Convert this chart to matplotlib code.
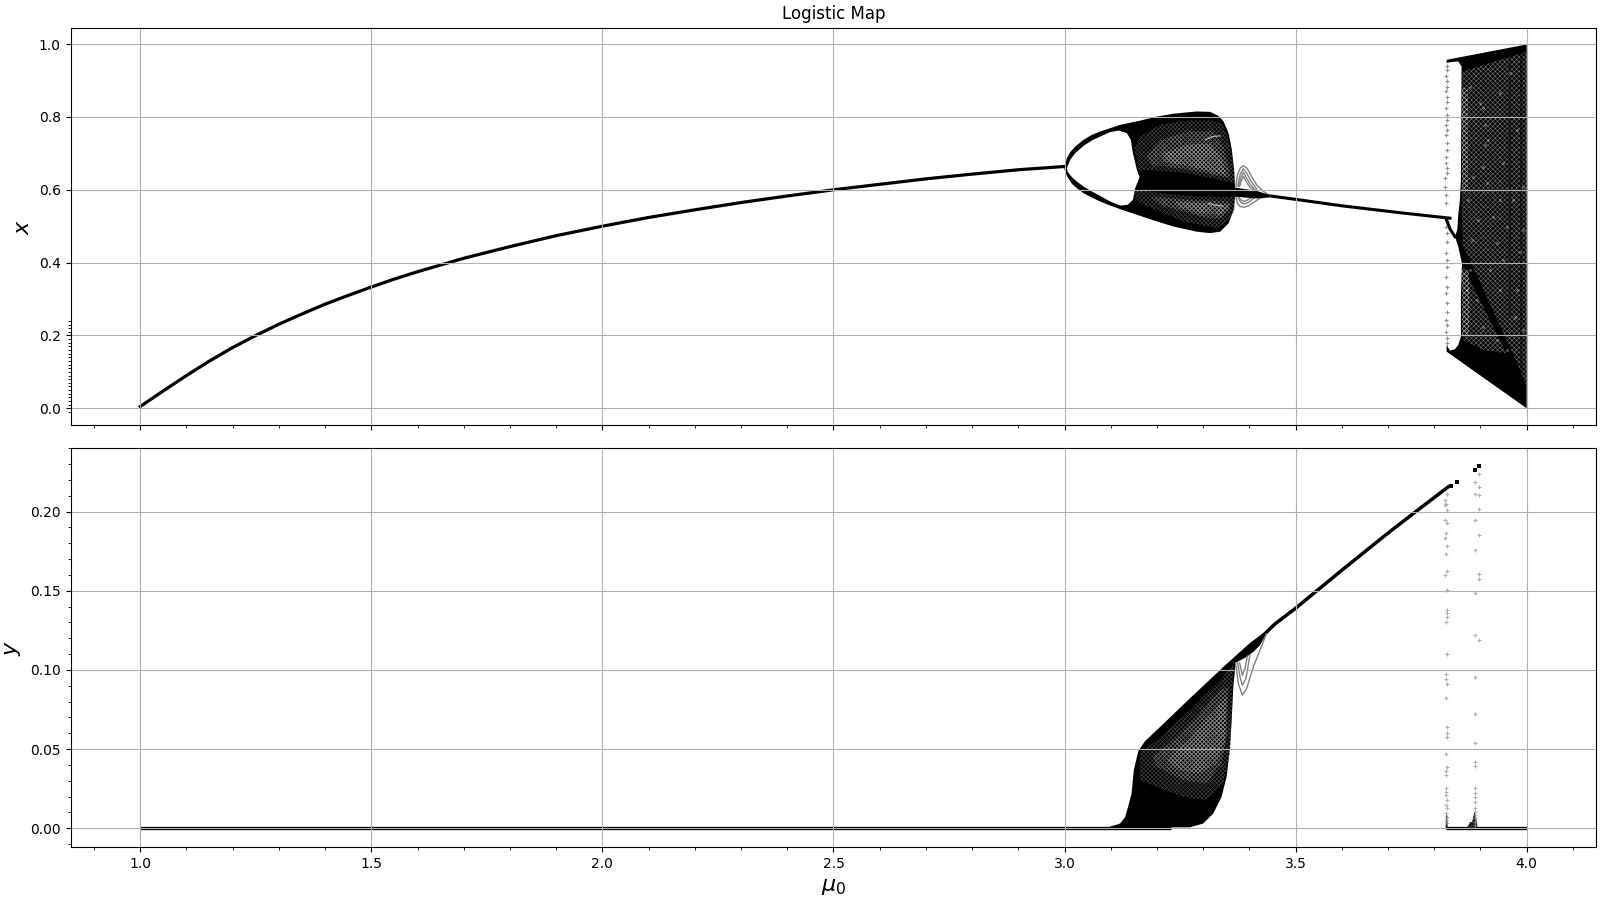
import matplotlib
matplotlib.use('Agg')
import matplotlib.pyplot as plt
import numpy as np
from matplotlib.ticker import MultipleLocator, FixedLocator, FormatStrFormatter

# values
# --- top panel, x ---
stable_mu = [1.0, 1.05, 1.1, 1.15, 1.2, 1.25, 1.3, 1.35, 1.4, 1.45, 1.5, 1.55, 1.6, 1.7, 1.8, 1.9, 2.0, 2.1, 2.2, 2.3, 2.4, 2.5, 2.6, 2.7, 2.8, 2.9, 3.0]
stable_x = [0.005, 0.048, 0.09, 0.13, 0.167, 0.2, 0.231, 0.259, 0.286, 0.31, 0.333, 0.355, 0.375, 0.412, 0.444, 0.474, 0.5, 0.524, 0.545, 0.565, 0.583, 0.6, 0.615, 0.63, 0.643, 0.655, 0.664]
tail_mu = [3.44, 3.51, 3.6, 3.726, 3.834]
tail_x = [0.584, 0.572, 0.556, 0.537, 0.522]
branch_mu = [3.8267, 3.8339, 3.8447]
branch_x = [0.5173, 0.4926, 0.4715]

lobe_top_mu = [3.0, 3.005, 3.0123, 3.0231, 3.0411, 3.0591, 3.0772, 3.0988, 3.1205, 3.164, 3.2, 3.236, 3.286, 3.315, 3.333, 3.344, 3.355, 3.362, 3.367, 3.369]
lobe_top_x = [0.6639, 0.6868, 0.7033, 0.7188, 0.7371, 0.7509, 0.76, 0.7692, 0.7783, 0.79, 0.801, 0.809, 0.815, 0.814, 0.803, 0.788, 0.755, 0.71, 0.655, 0.604]
lobe_bot_mu = [3.369, 3.366, 3.355, 3.337, 3.315, 3.286, 3.236, 3.2, 3.1421, 3.1205, 3.0988, 3.0772, 3.0591, 3.0411, 3.0267, 3.0159, 3.005, 3.0]
lobe_bot_x = [0.581, 0.545, 0.508, 0.485, 0.481, 0.485, 0.499, 0.513, 0.5375, 0.5467, 0.5567, 0.5677, 0.5787, 0.5906, 0.6044, 0.6163, 0.6382, 0.6547]
hole_mu = [3.005, 3.0123, 3.0231, 3.0411, 3.0591, 3.0772, 3.0988, 3.1169, 3.1349, 3.1435, 3.1479, 3.1565, 3.1623, 3.1529, 3.1479, 3.1363, 3.1205, 3.0988, 3.0772, 3.0591, 3.0411, 3.0267, 3.0159, 3.0065]
hole_x = [0.6593, 0.6822, 0.7005, 0.7207, 0.7353, 0.7463, 0.7582, 0.7628, 0.7555, 0.7371, 0.7005, 0.6547, 0.6346, 0.6044, 0.5723, 0.5586, 0.5567, 0.5677, 0.5833, 0.5952, 0.6089, 0.6227, 0.6346, 0.6501]

up1_mu = [3.1515, 3.1637, 3.207, 3.2647, 3.3224, 3.3426, 3.3527, 3.3614, 3.3672, 3.3693, 3.2647, 3.1782, 3.1601, 3.1565]
up1_x = [0.7142, 0.7463, 0.7783, 0.7903, 0.7903, 0.7784, 0.7463, 0.7005, 0.6547, 0.6181, 0.6456, 0.6547, 0.6501, 0.6822]
up2_mu = [3.1782, 3.207, 3.2647, 3.3224, 3.3441, 3.3549, 3.3585, 3.2719, 3.189]
up2_x = [0.6914, 0.7371, 0.76, 0.76, 0.7188, 0.6639, 0.6318, 0.6547, 0.6685]
up3_mu = [3.2142, 3.2647, 3.3152, 3.3405, 3.3499, 3.2719, 3.2142]
up3_x = [0.7005, 0.7234, 0.728, 0.6822, 0.641, 0.6639, 0.6776]
lo1_mu = [3.1529, 3.2647, 3.3679, 3.3679, 3.3571, 3.3297, 3.2575, 3.207, 3.1637, 3.1508]
lo1_x = [0.5998, 0.5833, 0.5796, 0.5448, 0.5174, 0.4945, 0.5128, 0.5403, 0.5632, 0.5815]
lo2_mu = [3.1854, 3.2719, 3.3585, 3.3571, 3.3405, 3.308, 3.2575, 3.207]
lo2_x = [0.5815, 0.5723, 0.5677, 0.5494, 0.5219, 0.5219, 0.5403, 0.5586]
lo3_mu = [3.2359, 3.3585, 3.3405, 3.3008, 3.2503]
lo3_x = [0.5677, 0.5586, 0.5311, 0.5357, 0.5494]
ripple1_mu = [3.3044, 3.32, 3.3369]
ripple1_x = [0.7371, 0.746, 0.7481]
ripple2_mu = [3.3116, 3.325, 3.3405]
ripple2_x = [0.5632, 0.558, 0.5558]

bubble_top_mu = [3.371, 3.374, 3.38, 3.387, 3.395, 3.405, 3.416, 3.431, 3.445]
bubble_top_x = [0.609, 0.641, 0.659, 0.666, 0.659, 0.636, 0.613, 0.595, 0.583]
bubble_bot_mu = [3.371, 3.374, 3.38, 3.389, 3.398, 3.409, 3.423, 3.445]
bubble_bot_x = [0.581, 0.563, 0.554, 0.552, 0.556, 0.565, 0.577, 0.581]
ring2_mu = [3.375, 3.38, 3.387, 3.394, 3.404, 3.416]
ring2_x = [0.61, 0.643, 0.658, 0.646, 0.623, 0.602]
ring3_mu = [3.377, 3.382, 3.387, 3.393, 3.402, 3.412]
ring3_x = [0.61, 0.634, 0.648, 0.634, 0.615, 0.6]
ring4_mu = [3.379, 3.383, 3.387, 3.392, 3.4, 3.408]
ring4_x = [0.61, 0.626, 0.637, 0.625, 0.609, 0.6]
ring5_mu = [3.376, 3.381, 3.389, 3.397, 3.41]
ring5_x = [0.578, 0.566, 0.561, 0.565, 0.577]
ring6_mu = [3.378, 3.382, 3.389, 3.396, 3.404]
ring6_x = [0.578, 0.572, 0.568, 0.572, 0.578]
wedge_mu = [3.369, 3.416, 3.445, 3.445, 3.416, 3.369]
wedge_x = [0.606, 0.597, 0.585, 0.58, 0.576, 0.581]

chaos_mu = [3.8267, 4.0, 4.0, 3.8267, 3.8267, 3.8339, 3.8447, 3.8519, 3.8577, 3.8577, 3.8599, 3.8519, 3.8447, 3.8498, 3.8519, 3.8555, 3.8577, 3.8584, 3.8591, 3.8519, 3.8339, 3.8267]
chaos_x = [0.9569, 0.999, 0.0, 0.1556, 0.1739, 0.1584, 0.162, 0.1739, 0.1968, 0.3067, 0.3983, 0.4441, 0.4715, 0.4899, 0.5311, 0.5723, 0.6272, 0.7646, 0.9386, 0.9523, 0.9505, 0.9477]
spk1_mu = [3.8606, 4.0, 4.0, 3.9746, 3.8736, 3.8627, 3.8599]
spk1_x = [0.9248, 0.9798, 0.0595, 0.1373, 0.4166, 0.4441, 0.5082]
spk3_mu = [3.8627, 3.9565, 3.906, 3.8627]
spk3_x = [0.3891, 0.1511, 0.1602, 0.1877]
strip1_mu = [3.8591, 3.8735, 3.8735, 3.8591]
strip1_x = [0.88, 0.88, 0.6, 0.6]
strip2_mu = [3.8599, 3.875, 3.875, 3.8599]
strip2_x = [0.38, 0.38, 0.2, 0.2]
streak1_mu = [3.9637, 3.9637]
streak1_x = [0.98, 0.25]
streak2_mu = [3.9881, 3.9881]
streak2_x = [0.98, 0.1]
spots_mu = [3.906, 3.8988, 3.9096, 3.9169, 3.9096, 3.906, 3.9147, 3.9421, 3.8736, 3.8952, 3.9565, 3.9926, 3.9349, 3.9854, 3.8772, 3.87, 3.8916, 3.906, 3.9349, 3.9565, 3.9782, 3.9746, 3.9926, 3.9637, 3.9782, 3.9421, 3.8772, 3.9926, 3.9493, 3.8844, 3.9277, 3.971, 3.8808, 3.9205, 3.9493, 3.9421]
spots_x = [0.8241, 0.8378, 0.7783, 0.7371, 0.7234, 0.6639, 0.6181, 0.5723, 0.5723, 0.5173, 0.499, 0.4899, 0.4532, 0.4303, 0.38, 0.325, 0.2975, 0.2243, 0.1877, 0.1602, 0.325, 0.2518, 0.2151, 0.9203, 0.7646, 0.8653, 0.8836, 0.6089, 0.673, 0.6364, 0.5265, 0.5723, 0.4624, 0.38, 0.4075, 0.325]

edge_x = [0.9386, 0.9276, 0.9111, 0.8974, 0.8836, 0.8699, 0.8561, 0.8424, 0.8241, 0.8058, 0.7921, 0.7783, 0.7646, 0.7508, 0.7279, 0.7096, 0.6913, 0.673, 0.6593, 0.6455, 0.6318, 0.6089, 0.586, 0.5631, 0.499, 0.4807, 0.4578, 0.4258, 0.4075, 0.3891, 0.3617, 0.3342, 0.3159, 0.2884, 0.2655, 0.2426, 0.2289, 0.2106, 0.1923, 0.1785]
edge_x_mu = [3.8267, 3.8275, 3.8255, 3.8267, 3.8275, 3.8262, 3.8275, 3.8267, 3.8255, 3.8275, 3.8267, 3.8262, 3.8275, 3.8255, 3.8267, 3.8275, 3.8262, 3.8255, 3.8267, 3.8275, 3.8235, 3.8225, 3.8245, 3.8255, 3.8262, 3.8275, 3.8267, 3.8255, 3.8275, 3.8267, 3.8262, 3.8275, 3.8255, 3.8267, 3.8275, 3.8255, 3.8267, 3.8262, 3.8267, 3.8275]

# --- bottom panel, y ---
flat_mu = [1.0, 3.23]
flat_y = [0.0, 0.0]
flat2_mu = [3.826, 4.0]
flat2_y = [0.0, 0.0]
ramp_mu = [3.42, 3.455, 3.5, 3.6, 3.7, 3.769, 3.83]
ramp_y = [0.119, 0.129, 0.139, 0.163, 0.1865, 0.202, 0.2156]
blob_mu = [3.098, 3.12, 3.131, 3.138, 3.145, 3.15, 3.16, 3.174, 3.214, 3.271, 3.344, 3.401, 3.466, 3.437, 3.423, 3.4085, 3.394, 3.3702, 3.3652, 3.3616, 3.358, 3.351, 3.34, 3.322, 3.3, 3.271, 3.098]
blob_y = [0.001, 0.003, 0.007, 0.014, 0.022, 0.037, 0.049, 0.055, 0.066, 0.082, 0.102, 0.117, 0.131, 0.123, 0.1156, 0.1114, 0.1083, 0.1045, 0.0893, 0.0683, 0.0515, 0.033, 0.02, 0.0094, 0.003, 0.0006, 0.0006]
blob1_mu = [3.1632, 3.2209, 3.2714, 3.3435, 3.3652, 3.3616, 3.358, 3.3435, 3.3075, 3.257, 3.1993, 3.1632]
blob1_y = [0.0473, 0.0609, 0.0746, 0.0956, 0.1041, 0.0683, 0.0473, 0.0283, 0.0178, 0.0199, 0.0262, 0.0305]
blob2_mu = [3.1921, 3.2353, 3.2858, 3.3363, 3.3544, 3.3508, 3.3399, 3.3075, 3.257, 3.1993]
blob2_y = [0.0452, 0.0557, 0.0704, 0.0872, 0.0893, 0.0578, 0.041, 0.0283, 0.0305, 0.0389]
blob3_mu = [3.2209, 3.2714, 3.3363, 3.3508, 3.3472, 3.3291, 3.293, 3.2498]
blob3_y = [0.0431, 0.0578, 0.0788, 0.083, 0.0557, 0.041, 0.0347, 0.0367]
arc1_mu = [3.3702, 3.376, 3.3847, 3.394, 3.4085, 3.423, 3.437]
arc1_y = [0.1045, 0.0914, 0.0841, 0.0883, 0.102, 0.1125, 0.123]
arc2_mu = [3.3746, 3.3796, 3.3847, 3.3926, 3.4012]
arc2_y = [0.1045, 0.0957, 0.0904, 0.0946, 0.1097]
arc3_mu = [3.3789, 3.3847, 3.3904, 3.3955]
arc3_y = [0.1045, 0.0967, 0.1009, 0.1087]

col1_y = [0.2114, 0.2072, 0.2051, 0.204, 0.2013, 0.195, 0.1929, 0.1868, 0.1836, 0.1783, 0.1735, 0.1628, 0.1598, 0.1502, 0.1378, 0.1357, 0.1336, 0.13, 0.1104, 0.0974, 0.0946, 0.0909, 0.082, 0.0637, 0.0604, 0.0578, 0.0467, 0.0389, 0.0364, 0.0337, 0.0252, 0.0231, 0.021, 0.0179, 0.0147, 0.0126, 0.0095, 0.0074, 0.0053, 0.0032]
col1_mu = [3.827, 3.824, 3.826, 3.824, 3.827, 3.824, 3.827, 3.825, 3.824, 3.827, 3.825, 3.827, 3.824, 3.827, 3.827, 3.827, 3.827, 3.826, 3.827, 3.825, 3.826, 3.827, 3.826, 3.827, 3.827, 3.827, 3.825, 3.827, 3.826, 3.826, 3.826, 3.826, 3.826, 3.827, 3.826, 3.827, 3.826, 3.827, 3.826, 3.827]
col2_y = [0.2187, 0.2114, 0.195, 0.1756, 0.1483, 0.1218, 0.0953, 0.0721, 0.0536, 0.0421, 0.0393, 0.0252, 0.0221, 0.02, 0.0168, 0.0126, 0.0105, 0.0084, 0.0063, 0.0042, 0.0021]
col2_mu = [3.889] * len(col2_y)
col3_y = [0.224, 0.2156, 0.2107, 0.2019, 0.1855, 0.1609, 0.1577, 0.1192]
col3_mu = [3.897] * len(col3_y)
spike1_mu = [3.8245, 3.8255, 3.8275, 3.8295]
spike1_y = [0.0, 0.0085, 0.0085, 0.0]
spike2_mu = [3.87, 3.878, 3.882, 3.887, 3.891, 3.894]
spike2_y = [0.0, 0.004, 0.004, 0.0105, 0.006, 0.0]
dark_mu = [3.836, 3.85, 3.889, 3.897]
dark_y = [0.216, 0.2189, 0.2265, 0.2286]

xticks = [1.0, 1.5, 2.0, 2.5, 3.0, 3.5, 4.0]
x_yticks = [0.0, 0.2, 0.4, 0.6, 0.8, 1.0]
y_yticks = [0.0, 0.05, 0.1, 0.15, 0.2]

plt.rcParams['hatch.linewidth'] = 0.45

fig = plt.figure(figsize=(16, 9), dpi=100)
ax1 = fig.add_axes([70.5 / 1600, 1 - 425.3 / 900, 1525.5 / 1600, 397.5 / 900])
ax2 = fig.add_axes([70.5 / 1600, 1 - 847.3 / 900, 1525.5 / 1600, 399 / 900])


def patch(ax, mu, val, color='black', hatch=None):
    if hatch is None:
        ax.fill(mu, val, facecolor=color, edgecolor='none', zorder=1)
    else:
        ax.fill(mu, val, facecolor='none', edgecolor=color, hatch=hatch, linewidth=0, zorder=1)


# top panel
ax1.plot(stable_mu, stable_x, color='black', lw=2.3, zorder=1)
ax1.plot(tail_mu, tail_x, color='black', lw=2.2, zorder=1)
ax1.plot(branch_mu, branch_x, color='black', lw=2.2, zorder=1)
patch(ax1, lobe_top_mu + lobe_bot_mu, lobe_top_x + lobe_bot_x)
patch(ax1, hole_mu, hole_x, 'white')
for mu, val in [(up1_mu, up1_x), (lo1_mu, lo1_x)]:
    patch(ax1, mu, val, '#444444', 'xxxxxxxx')
for mu, val in [(up2_mu, up2_x), (lo2_mu, lo2_x)]:
    patch(ax1, mu, val, '#6e6e6e', 'xxxxxxxx')
for mu, val in [(up3_mu, up3_x), (lo3_mu, lo3_x)]:
    patch(ax1, mu, val, '#959595', 'xxxxxxxx')
for mu, val in [(ripple1_mu, ripple1_x), (ripple2_mu, ripple2_x)]:
    ax1.plot(mu, val, color='#b5b5b5', lw=0.9, zorder=1)
for mu, val in [(bubble_top_mu, bubble_top_x), (bubble_bot_mu, bubble_bot_x), (ring2_mu, ring2_x), (ring3_mu, ring3_x), (ring4_mu, ring4_x), (ring5_mu, ring5_x), (ring6_mu, ring6_x)]:
    ax1.plot(mu, val, color='#808080', lw=1.0, zorder=1)
patch(ax1, wedge_mu, wedge_x)
patch(ax1, chaos_mu, chaos_x)
for mu, val in [(spk1_mu, spk1_x), (spk3_mu, spk3_x)]:
    patch(ax1, mu, val, '#6a6a6a', 'xxxxxxx')
for mu, val in [(strip1_mu, strip1_x), (strip2_mu, strip2_x)]:
    patch(ax1, mu, val, '#a5a5a5', 'xxxxxxx')
for mu, val in [(streak1_mu, streak1_x), (streak2_mu, streak2_x)]:
    ax1.plot(mu, val, color='black', alpha=0.45, lw=1.4, zorder=1)
ax1.scatter(spots_mu, spots_x, s=5, color='white', alpha=0.3, linewidths=0, zorder=1)
ax1.scatter(edge_x_mu, edge_x, s=9, marker='+', color='#555555', alpha=0.65, linewidths=0.8, zorder=1)
ax1.set_title('Logistic Map', fontsize=12)
ax1.set_ylabel('$x$', fontsize=16)
ax1.tick_params(labelbottom=False)

# bottom panel
ax2.plot(flat_mu, flat_y, color='black', lw=2.4, zorder=1, solid_capstyle='butt')
ax2.plot(flat2_mu, flat2_y, color='black', lw=2.4, zorder=1, solid_capstyle='butt')
ax2.plot(ramp_mu, ramp_y, color='black', lw=2.5, zorder=1)
patch(ax2, blob_mu, blob_y)
patch(ax2, blob1_mu, blob1_y, '#444444', 'xxxxxxxx')
patch(ax2, blob2_mu, blob2_y, '#6e6e6e', 'xxxxxxxx')
patch(ax2, blob3_mu, blob3_y, '#8a8a8a', 'xxxxxxxx')
for mu, val in [(arc1_mu, arc1_y), (arc2_mu, arc2_y), (arc3_mu, arc3_y)]:
    ax2.plot(mu, val, color='#808080', lw=1.0, zorder=1)
patch(ax2, spike1_mu, spike1_y, '#222222')
patch(ax2, spike2_mu, spike2_y, '#222222')
ax2.scatter(col1_mu, col1_y, s=9, marker='+', color='#999999', alpha=0.75, linewidths=0.8, zorder=1)
ax2.scatter(col2_mu, col2_y, s=9, marker='+', color='#999999', alpha=0.75, linewidths=0.8, zorder=1)
ax2.scatter(col3_mu, col3_y, s=9, marker='+', color='#999999', alpha=0.75, linewidths=0.8, zorder=1)
ax2.scatter(dark_mu, dark_y, s=7, marker='s', color='black', linewidths=0, zorder=1)
ax2.set_xlabel(r'$\mu_0$', fontsize=16)
ax2.set_ylabel('$y$', fontsize=16)

for ax in (ax1, ax2):
    ax.set_xlim(0.849, 4.15)
    ax.set_xticks(xticks)
    ax.xaxis.set_minor_locator(MultipleLocator(0.1))
    ax.yaxis.set_minor_locator(FixedLocator(np.arange(-0.01, 0.245, 0.01)))
    ax.grid(True)

ax1.set_ylim(-0.0467, 1.0448)
ax1.set_yticks(x_yticks)
ax2.set_ylim(-0.012, 0.24)
ax2.set_yticks(y_yticks)
ax2.yaxis.set_major_formatter(FormatStrFormatter('%.2f'))
ax1.yaxis.set_label_coords(-0.0245, 0.5)
ax2.yaxis.set_label_coords(-0.0314, 0.5)

fig.savefig('out.png', dpi=100)
